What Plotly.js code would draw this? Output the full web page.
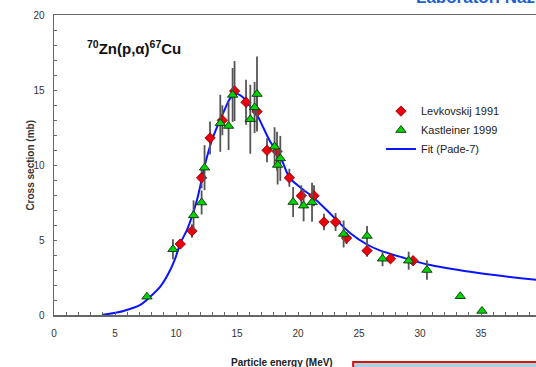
<!DOCTYPE html>
<html>
<head>
<meta charset="utf-8">
<script src="https://cdn.plot.ly/plotly-3.0.1.min.js"></script>
<style>
html, body { margin:0; padding:0; overflow:hidden; background:#fff; }
#chart { width:580px; height:367px; }
</style>
</head>
<body>
<div id="chart"></div>
<script>
// Levkovskij 1991 (red diamonds)
const levE   = [10.35, 11.31, 12.1, 12.79, 13.8, 14.8, 15.74, 16.64, 17.46, 18.28, 19.29, 20.27, 21.31, 22.13, 23.08, 23.98, 25.66, 27.58, 29.43];
const levS   = [4.73, 5.6, 9.15, 11.8, 12.98, 14.93, 14.18, 13.56, 10.98, 10.91, 9.15, 7.95, 7.95, 6.2, 6.2, 5.13, 4.29, 3.75, 3.62];
const levErr = [0.3, 0.45, 0.7, 1.1, 1.0, 2.0, 1.5, 1.2, 0.8, 1.3, 0.6, 0.7, 0.7, 0.55, 0.6, 0.4, 0.4, 0.3, 0.3];

// Kastleiner 1999 (green triangles)
const kasE   = [7.62, 9.75, 11.44, 12.1, 12.34, 13.63, 14.31, 14.64, 16.09, 16.44, 16.64, 18.08, 18.33, 18.55, 19.6, 20.46, 21.15, 23.74, 25.66, 26.93, 29.07, 30.57, 33.3, 35.08];
const kasS   = [1.22, 4.38, 6.64, 7.5, 9.82, 12.78, 12.6, 14.67, 13.05, 13.84, 14.73, 11.22, 10.0, 10.44, 7.53, 7.29, 7.51, 5.4, 5.27, 3.75, 3.62, 3.0, 1.25, 0.27];
const kasErr = [0.1, 0.67, 1.0, 0.8, 1.5, 1.9, 1.6, 1.8, 2.3, 1.7, 2.5, 1.3, 1.3, 1.5, 1.0, 1.05, 1.3, 0.9, 0.67, 0.5, 0.6, 0.65, 0, 0];

// Fit (Pade-7)
const fitE = [3.93, 5.7, 7.07, 7.89, 8.71, 9.39, 9.94, 10.35, 10.9, 11.72, 12.4, 12.95, 13.49, 14.04, 14.45, 15.0, 15.5, 16.09, 16.64, 17.18, 17.73, 18.55, 19.29, 20.19, 21.31, 22.65, 24.29, 25.66, 26.75, 28.5, 30.85, 34.94, 40.0];
const fitS = [0, 0.27, 0.67, 1.22, 1.89, 2.78, 3.78, 4.78, 5.67, 7.67, 10.11, 11.67, 12.78, 13.78, 14.45, 14.73, 14.5, 13.89, 13.33, 12.45, 11.55, 10.55, 9.18, 8.5, 7.8, 6.75, 5.45, 4.7, 4.29, 3.85, 3.33, 2.78, 2.3];

const xTicks = [0, 5, 10, 15, 20, 25, 30, 35, 40];
const yTicks = [0, 5, 10, 15, 20];

const FONT = 'Arial, "Liberation Sans", sans-serif';

const traces = [
  {
    x: fitE, y: fitS, type: 'scatter', mode: 'lines', name: 'Fit (Pade-7)',
    line: { color: '#0a14ff', width: 2, shape: 'spline', smoothing: 0.8 },
    legendrank: 3, legendgroup: 'c'
  },
  {
    x: levE, y: levS, type: 'scatter', mode: 'markers', name: 'Levkovskij 1991',
    marker: { symbol: 'diamond', size: 8, color: '#e8000b', line: { color: '#8a0000', width: 0.8 } },
    error_y: { type: 'data', array: levErr, visible: true, color: '#555555', thickness: 1.8, width: 0 },
    legendrank: 1, legendgroup: 'a'
  },
  {
    x: kasE, y: kasS, type: 'scatter', mode: 'markers', name: 'Kastleiner 1999',
    marker: { symbol: 'triangle-up', size: 9, color: '#00d400', line: { color: '#103010', width: 0.9 } },
    error_y: { type: 'data', array: kasErr, visible: true, color: '#555555', thickness: 1.8, width: 0 },
    legendrank: 2, legendgroup: 'b'
  }
];

const layout = {
  width: 580, height: 367,
  margin: { l: 54, r: 38, t: 15, b: 52 },
  paper_bgcolor: '#ffffff', plot_bgcolor: '#ffffff',
  font: { family: FONT, size: 10, color: '#333333' },
  showlegend: true,
  legend: {
    x: 0.67, y: 0.728, xanchor: 'left', yanchor: 'top',
    font: { family: FONT, size: 11, color: '#222222' },
    bgcolor: 'rgba(0,0,0,0)', borderwidth: 0,
    traceorder: 'grouped', tracegroupgap: 0
  },
  xaxis: {
    range: [0, 40], tickvals: xTicks, ticktext: xTicks.map(String),
    ticks: 'inside', ticklen: 3, tickcolor: '#666', tickwidth: 1,
    minor: { dtick: 1, ticks: 'inside', ticklen: 3, tickcolor: '#666', tickwidth: 1 },
    showline: true, linecolor: '#666', linewidth: 1.5, mirror: true,
    showgrid: false, zeroline: false,
    ticklabelstandoff: 8,
    tickfont: { family: FONT, size: 10, color: '#333' }
  },
  yaxis: {
    range: [0, 20], tickvals: yTicks, ticktext: yTicks.map(String),
    ticks: 'inside', ticklen: 3, tickcolor: '#666', tickwidth: 1,
    minor: { dtick: 1, ticks: 'inside', ticklen: 3, tickcolor: '#666', tickwidth: 1 },
    showline: true, linecolor: '#666', linewidth: 1.5, mirror: true,
    showgrid: false, zeroline: false,
    ticklabelstandoff: 6,
    tickfont: { family: FONT, size: 10, color: '#333' }
  },
  annotations: [
    {
      text: '<b><sup>70</sup>Zn(p,α)<sup>67</sup>Cu</b>', xref: 'paper', yref: 'paper',
      x: 0.063, y: 0.89, xanchor: 'left', yanchor: 'middle', showarrow: false,
      font: { family: FONT, size: 15, color: '#111' }
    },
    {
      text: '<b>Cross section (mb)</b>', xref: 'paper', yref: 'paper',
      x: -0.05, y: 0.5, xanchor: 'center', yanchor: 'middle', textangle: -90, showarrow: false,
      font: { family: FONT, size: 10, color: '#333' }
    },
    {
      text: '<b>Particle energy (MeV)</b>', xref: 'paper', yref: 'paper',
      x: 0.467, y: -0.157, xanchor: 'center', yanchor: 'middle', showarrow: false,
      font: { family: FONT, size: 10, color: '#222' }
    },
    {
      text: '<b>Laboratori Nazionali di Legnaro</b>', xref: 'paper', yref: 'paper',
      x: 0.738, y: 1.02, xanchor: 'left', yanchor: 'bottom', showarrow: false,
      font: { family: FONT, size: 17, color: '#1f5fcc' }
    }
  ],
  shapes: [
    {
      type: 'rect', xref: 'paper', yref: 'paper',
      x0: 0.613, x1: 1.2, y0: -0.157, y1: -0.3,
      line: { color: '#e01010', width: 2 }, fillcolor: '#a9d2dc', layer: 'above'
    }
  ]
};

Plotly.newPlot('chart', traces, layout, { displayModeBar: false, staticPlot: true });
</script>
</body>
</html>
